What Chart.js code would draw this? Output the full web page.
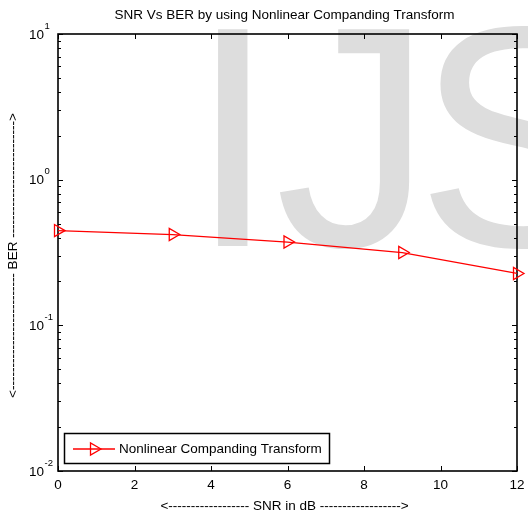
<!DOCTYPE html>
<html>
<head>
<meta charset="utf-8">
<script src="https://cdn.jsdelivr.net/npm/chart.js@4/dist/chart.umd.min.js"></script>
<style>
  html, body { margin: 0; padding: 0; background: #fff; }
</style>
</head>
<body>
<canvas id="c" width="528" height="516"></canvas>
<script>
// data
const snrDb = [0, 3, 6, 9, 12];
const ber = [0.447, 0.42, 0.373, 0.316, 0.227];
const xTicks = [0, 2, 4, 6, 8, 10, 12];
const yDecades = [0.01, 0.1, 1, 10];
const yExponents = ['-2', '-1', '0', '1'];
const seriesName = 'Nonlinear Companding Transform';
const titleText = 'SNR Vs BER by using Nonlinear Companding Transform';
const xLabel = '<' + '-'.repeat(18) + ' SNR in dB ' + '-'.repeat(18) + '>';
const yLabel = '<' + '-'.repeat(26) + ' BER ' + '-'.repeat(26) + '>';

const FONT = '"Liberation Sans", Arial, sans-serif';
const TXT = '13.5px ' + FONT;
const RED = '#ff0000';

function triangleRight(ctx, x, y, r) {
  ctx.beginPath();
  ctx.moveTo(x + r, y);
  ctx.lineTo(x - r / 2, y - r * 0.866);
  ctx.lineTo(x - r / 2, y + r * 0.866);
  ctx.closePath();
  ctx.stroke();
}

const matlabLook = {
  id: 'matlabLook',
  beforeDraw(chart) {
    const ctx = chart.ctx;
    ctx.save();
    ctx.fillStyle = '#fff';
    ctx.fillRect(0, 0, chart.width, chart.height);
    // watermark
    ctx.fillStyle = '#dddddd';
    ctx.font = '315px ' + FONT;
    ctx.textBaseline = 'alphabetic';
    ctx.textAlign = 'left';
    ctx.fillText('I', 189, 246);
    ctx.fillText('J', 275, 246);
    ctx.fillText('S', 416, 246);
    ctx.restore();
  },
  beforeDatasetsDraw(chart) {
    const ctx = chart.ctx;
    const a = chart.chartArea;
    const xs = chart.scales.x, ys = chart.scales.y;
    ctx.save();
    ctx.strokeStyle = '#000';
    ctx.lineWidth = 1.6;
    ctx.strokeRect(a.left, a.top, a.right - a.left, a.bottom - a.top);
    ctx.lineWidth = 1;
    ctx.beginPath();
    xTicks.forEach(v => {
      const px = Math.round(xs.getPixelForValue(v)) + 0.5;
      ctx.moveTo(px, a.bottom); ctx.lineTo(px, a.bottom - 5);
      ctx.moveTo(px, a.top); ctx.lineTo(px, a.top + 5);
    });
    yDecades.forEach((d, i) => {
      const last = i === yDecades.length - 1;
      for (let m = 1; m <= (last ? 1 : 9); m++) {
        const py = Math.round(ys.getPixelForValue(d * m)) + 0.5;
        const len = m === 1 ? 5 : 3;
        ctx.moveTo(a.left, py); ctx.lineTo(a.left + len, py);
        ctx.moveTo(a.right, py); ctx.lineTo(a.right - len, py);
      }
    });
    ctx.stroke();
    ctx.restore();
  },
  afterDraw(chart) {
    const ctx = chart.ctx;
    const a = chart.chartArea;
    const xs = chart.scales.x, ys = chart.scales.y;
    const cx = (a.left + a.right) / 2;
    ctx.save();
    ctx.fillStyle = '#000';
    ctx.textBaseline = 'middle';

    // title
    ctx.font = TXT;
    ctx.textAlign = 'center';
    ctx.fillText(titleText, cx - 3, 15);

    // x tick labels
    xTicks.forEach(v => ctx.fillText(String(v), xs.getPixelForValue(v), 485));

    // x axis label
    ctx.fillText(xLabel, cx - 3, 506);

    // y tick labels (10 with raised exponent)
    yDecades.forEach((d, i) => {
      const py = ys.getPixelForValue(d);
      ctx.font = TXT;
      ctx.textAlign = 'right';
      ctx.fillText('10', 44, py + 1);
      ctx.font = '9.5px ' + FONT;
      ctx.textAlign = 'left';
      ctx.fillText(yExponents[i], 44.5, py - 8);
    });

    // y axis label
    ctx.font = TXT;
    ctx.save();
    ctx.translate(13, (a.top + a.bottom) / 2 + 3);
    ctx.rotate(-Math.PI / 2);
    ctx.textAlign = 'center';
    ctx.fillText(yLabel, 0, 0);
    ctx.restore();

    // legend
    ctx.fillStyle = '#fff';
    ctx.fillRect(64.5, 433.5, 265, 30);
    ctx.strokeStyle = '#000';
    ctx.lineWidth = 1.5;
    ctx.strokeRect(64.5, 433.5, 265, 30);
    ctx.strokeStyle = RED;
    ctx.lineWidth = 1.3;
    ctx.beginPath();
    ctx.moveTo(73, 449); ctx.lineTo(115, 449);
    ctx.stroke();
    triangleRight(ctx, 94, 449, 7);
    ctx.fillStyle = '#000';
    ctx.font = TXT;
    ctx.textAlign = 'left';
    ctx.fillText(seriesName, 119, 449);
    ctx.restore();
  }
};

new Chart(document.getElementById('c').getContext('2d'), {
  type: 'line',
  data: {
    datasets: [{
      label: seriesName,
      data: snrDb.map((x, i) => ({ x: x, y: ber[i] })),
      borderColor: RED,
      borderWidth: 1.3,
      pointStyle: 'triangle',
      rotation: 90,
      radius: 7,
      pointBorderColor: RED,
      pointBackgroundColor: 'rgba(0,0,0,0)',
      pointBorderWidth: 1.3,
      tension: 0,
      clip: false
    }]
  },
  options: {
    responsive: false,
    animation: false,
    events: [],
    layout: { padding: { left: 58, top: 34, right: 11, bottom: 45 } },
    plugins: { legend: { display: false }, title: { display: false }, tooltip: { enabled: false } },
    scales: {
      x: { type: 'linear', min: 0, max: 12, display: false },
      y: { type: 'logarithmic', min: 0.01, max: 10, display: false }
    }
  },
  plugins: [matlabLook]
});
</script>
</body>
</html>
